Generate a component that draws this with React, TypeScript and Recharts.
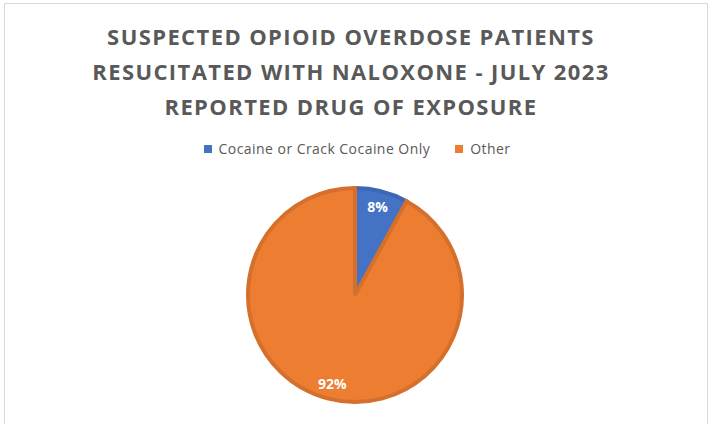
import { PieChart, Pie, Cell, Legend } from "recharts";

// 데이터
const categories = ["Cocaine or Crack Cocaine Only", "Other"];
const shares = [8, 92];
const titleLines = [
  "SUSPECTED OPIOID OVERDOSE PATIENTS",
  "RESUCITATED WITH NALOXONE - JULY 2023",
  "REPORTED DRUG OF EXPOSURE",
];

const fills = ["#4472C4", "#ED7D31"];
const strokes = ["#3C67B3", "#D5702C"];
const FONT = "'Open Sans', 'Noto Sans', sans-serif";
const RADIAN = Math.PI / 180;

const data = categories.map((name, i) => ({ name, value: shares[i] }));

// 슬라이스 안쪽 퍼센트 라벨
function renderLabel(props: any) {
  const { cx, cy, midAngle, percent } = props;
  const r = 91;
  const x = cx + r * Math.cos(-midAngle * RADIAN);
  const y = cy + r * Math.sin(-midAngle * RADIAN);
  return (
    <text
      x={x}
      y={y}
      fill="#ffffff"
      textAnchor="middle"
      dominantBaseline="central"
      fontFamily={FONT}
      fontSize={14}
      fontWeight={700}
    >
      {`${Math.round(percent * 100)}%`}
    </text>
  );
}

function LegendContent() {
  return (
    <div
      style={{
        display: "flex",
        justifyContent: "center",
        gap: 25,
        fontFamily: FONT,
        fontSize: 14,
        letterSpacing: 0.45,
        color: "#595959",
      }}
    >
      {categories.map((c, i) => (
        <div key={c} style={{ display: "flex", alignItems: "center" }}>
          <span
            style={{
              display: "inline-block",
              width: 8,
              height: 8,
              background: fills[i],
              marginRight: 7,
            }}
          />
          {c}
        </div>
      ))}
    </div>
  );
}

export default function App() {
  return (
    <div
      style={{
        position: "absolute",
        left: 0,
        top: 0,
        width: 708,
        height: 424,
        background: "#fff",
        overflow: "hidden",
      }}
    >
      {/* 차트 테두리 */}
      <div
        style={{
          position: "absolute",
          left: 4,
          top: 3,
          width: 702,
          height: 440,
          border: "1px solid #D9D9D9",
        }}
      />
      <div
        style={{
          position: "absolute",
          left: -4,
          top: 19,
          width: 710,
          textAlign: "center",
          fontFamily: FONT,
          fontWeight: 700,
          fontSize: 22,
          letterSpacing: 1.4,
          lineHeight: "35px",
          color: "#595959",
        }}
      >
        {titleLines.map((t) => (
          <div key={t}>{t}</div>
        ))}
      </div>
      <div style={{ position: "absolute", left: 0, top: 0 }}>
        <PieChart
          width={708}
          height={424}
          margin={{ top: 0, right: 0, bottom: 0, left: 0 }}
        >
          <Legend
            content={<LegendContent />}
            wrapperStyle={{ left: 0, top: 139, width: 714 }}
          />
          <Pie
            data={data}
            dataKey="value"
            nameKey="name"
            cx={355}
            cy={295}
            outerRadius={107}
            startAngle={90}
            endAngle={-270}
            strokeWidth={4}
            label={renderLabel}
            labelLine={false}
            isAnimationActive={false}
          >
            {data.map((d, i) => (
              <Cell key={d.name} fill={fills[i]} stroke={strokes[i]} />
            ))}
          </Pie>
        </PieChart>
      </div>
    </div>
  );
}
